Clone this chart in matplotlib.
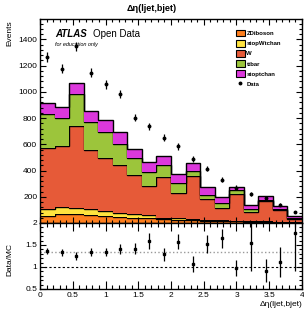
import matplotlib
matplotlib.use("Agg")
import matplotlib.pyplot as plt
from matplotlib.patches import Patch
from matplotlib.lines import Line2D
from matplotlib.ticker import MultipleLocator
import numpy as np

plt.rcParams['font.family'] = ['Liberation Sans', 'DejaVu Sans']

# 18 bins of delta eta between 0 and 4
bin_edges = np.linspace(0, 4, 19)
bin_centres = 0.5 * (bin_edges[1:] + bin_edges[:-1])

# MC samples (stacked bottom to top)
zdiboson = [50, 70, 65, 58, 50, 45, 40, 35, 28, 25, 20, 18, 15, 13, 10, 8, 6, 5]
stop_wtchan = [55, 52, 51, 50, 42, 33, 28, 23, 14, 10, 8, 6, 7, 5, 4, 4, 4, 3]
wjets = [469, 467, 626, 451, 400, 363, 297, 226, 308, 193, 329, 158, 96, 202, 71, 155, 86, 24]
ttbar = [254, 214, 240, 208, 204, 163, 133, 107, 89, 79, 41, 33, 38, 28, 21, 12, 10, 10]
stop_tchan = [87, 81, 88, 87, 86, 87, 68, 71, 74, 63, 61, 56, 46, 30, 35, 28, 25, 13]

samples = ['ZDiboson', 'stopWtchan', 'W', 'ttbar', 'stoptchan']
sample_values = [zdiboson, stop_wtchan, wjets, ttbar, stop_tchan]
sample_colours = ['#ff7f1e', '#ffe33f', '#e65a38', '#9cc53b', '#dc38dc']

data = [1266, 1175, 1346, 1145, 1057, 986, 803, 737, 650, 584, 490, 413, 330, 270, 218, 190, 141, 86]
data_err = [36, 34, 37, 34, 33, 31, 28, 27, 25, 24, 22, 20, 18, 16, 15, 14, 12, 9]

ratio = [1.37, 1.33, 1.26, 1.34, 1.34, 1.415, 1.415, 1.585, 1.285, 1.57, 1.07, 1.52, 1.65, 0.985,
         1.55, 0.915, 1.12, 1.77]
ratio_err = [0.07, 0.09, 0.09, 0.09, 0.09, 0.11, 0.12, 0.18, 0.14, 0.17, 0.18, 0.2, 0.22, 0.18,
             0.65, 0.26, 0.34, 0.85]
norm_ratio = 1.34

fig = plt.figure(figsize=(3.04, 3.13), dpi=100)
ax = fig.add_axes([0.1316, 0.2875, 0.8618, 0.6518])
rax = fig.add_axes([0.1316, 0.0767, 0.8618, 0.2109])

# stacked histogram
bottom = np.zeros(len(bin_centres))
for name, vals, col in zip(samples, sample_values, sample_colours):
    top = bottom + np.array(vals)
    ax.stairs(top, bin_edges, baseline=bottom, fill=True, color=col, lw=0)
    ax.stairs(top, bin_edges, baseline=None, color='black', lw=1.0)
    bottom = top

ax.errorbar(bin_centres, data, yerr=data_err, fmt='o', color='black', ms=1.8, lw=0.9,
            capsize=0)

ax.set_xlim(0, 4)
ax.set_ylim(0, 1555)
ax.set_yticks([200, 400, 600, 800, 1000, 1200, 1400])
ax.yaxis.set_minor_locator(MultipleLocator(40))
ax.xaxis.set_major_locator(MultipleLocator(0.5))
ax.xaxis.set_minor_locator(MultipleLocator(0.1))
ax.tick_params(labelbottom=False)

# ratio panel
rax.axhline(norm_ratio, color='#999999', ls=':', lw=1.0)
rax.axhline(1.0, color='black', ls='--', lw=0.8, dashes=(2, 2))
rax.errorbar(bin_centres, ratio, yerr=ratio_err, fmt='s', color='black', ms=1.8, lw=0.9,
             capsize=0)
rax.set_xlim(0, 4)
rax.set_ylim(0.5, 2)
rax.set_yticks([0.5, 1, 1.5, 2])
rax.set_yticklabels(['0.5', '1', '1.5', '2'])
rax.yaxis.set_minor_locator(MultipleLocator(0.1))
rax.xaxis.set_minor_locator(MultipleLocator(0.1))
rax.set_xticks([0, 0.5, 1, 1.5, 2, 2.5, 3, 3.5, 4])
rax.set_xticklabels(['0', '0.5', '1', '1.5', '2', '2.5', '3', '3.5', '4'])

for a in (ax, rax):
    a.tick_params(which='both', direction='in', top=True, right=True, labelsize=6,
                  width=0.8, pad=2)
    a.tick_params(which='major', length=4)
    a.tick_params(which='minor', length=2)
    for s in a.spines.values():
        s.set_linewidth(1.0)
rax.tick_params(axis='x', which='major', length=6)
rax.tick_params(axis='x', which='minor', length=3)

# labels
fig.text(0.5, 0.972, 'Δη(ljet,bjet)', ha='center', va='center', fontsize=6.5,
         fontweight='bold')
fig.text(0.033, 0.935, 'Events', rotation=90, ha='center', va='top', fontsize=6)
fig.text(0.033, 0.225, 'Data/MC', rotation=90, ha='center', va='top', fontsize=6)
fig.text(0.995, 0.015, 'Δη(ljet,bjet)', ha='right', va='bottom', fontsize=6)

ax.text(0.058, 0.925, 'ATLAS', transform=ax.transAxes, fontsize=7, fontweight='bold',
        fontstyle='italic', va='center')
ax.text(0.204, 0.925, 'Open Data', transform=ax.transAxes, fontsize=7, va='center')
ax.text(0.058, 0.875, 'for education only', transform=ax.transAxes, fontsize=4,
        fontstyle='italic', va='center')

handles = [Patch(facecolor=c, edgecolor='black', lw=0.8) for c in sample_colours]
handles.append(Line2D([], [], marker='o', color='black', ms=1.8, ls='none'))
leg = ax.legend(handles, samples + ['Data'], loc='upper left', bbox_to_anchor=(0.74, 0.96),
                frameon=False, fontsize=4.3, handlelength=1.4, handleheight=1.4,
                handletextpad=0.3, labelspacing=0.55, borderaxespad=0)
for t in leg.get_texts():
    t.set_fontweight('bold')

fig.savefig('out.png', dpi=100)
